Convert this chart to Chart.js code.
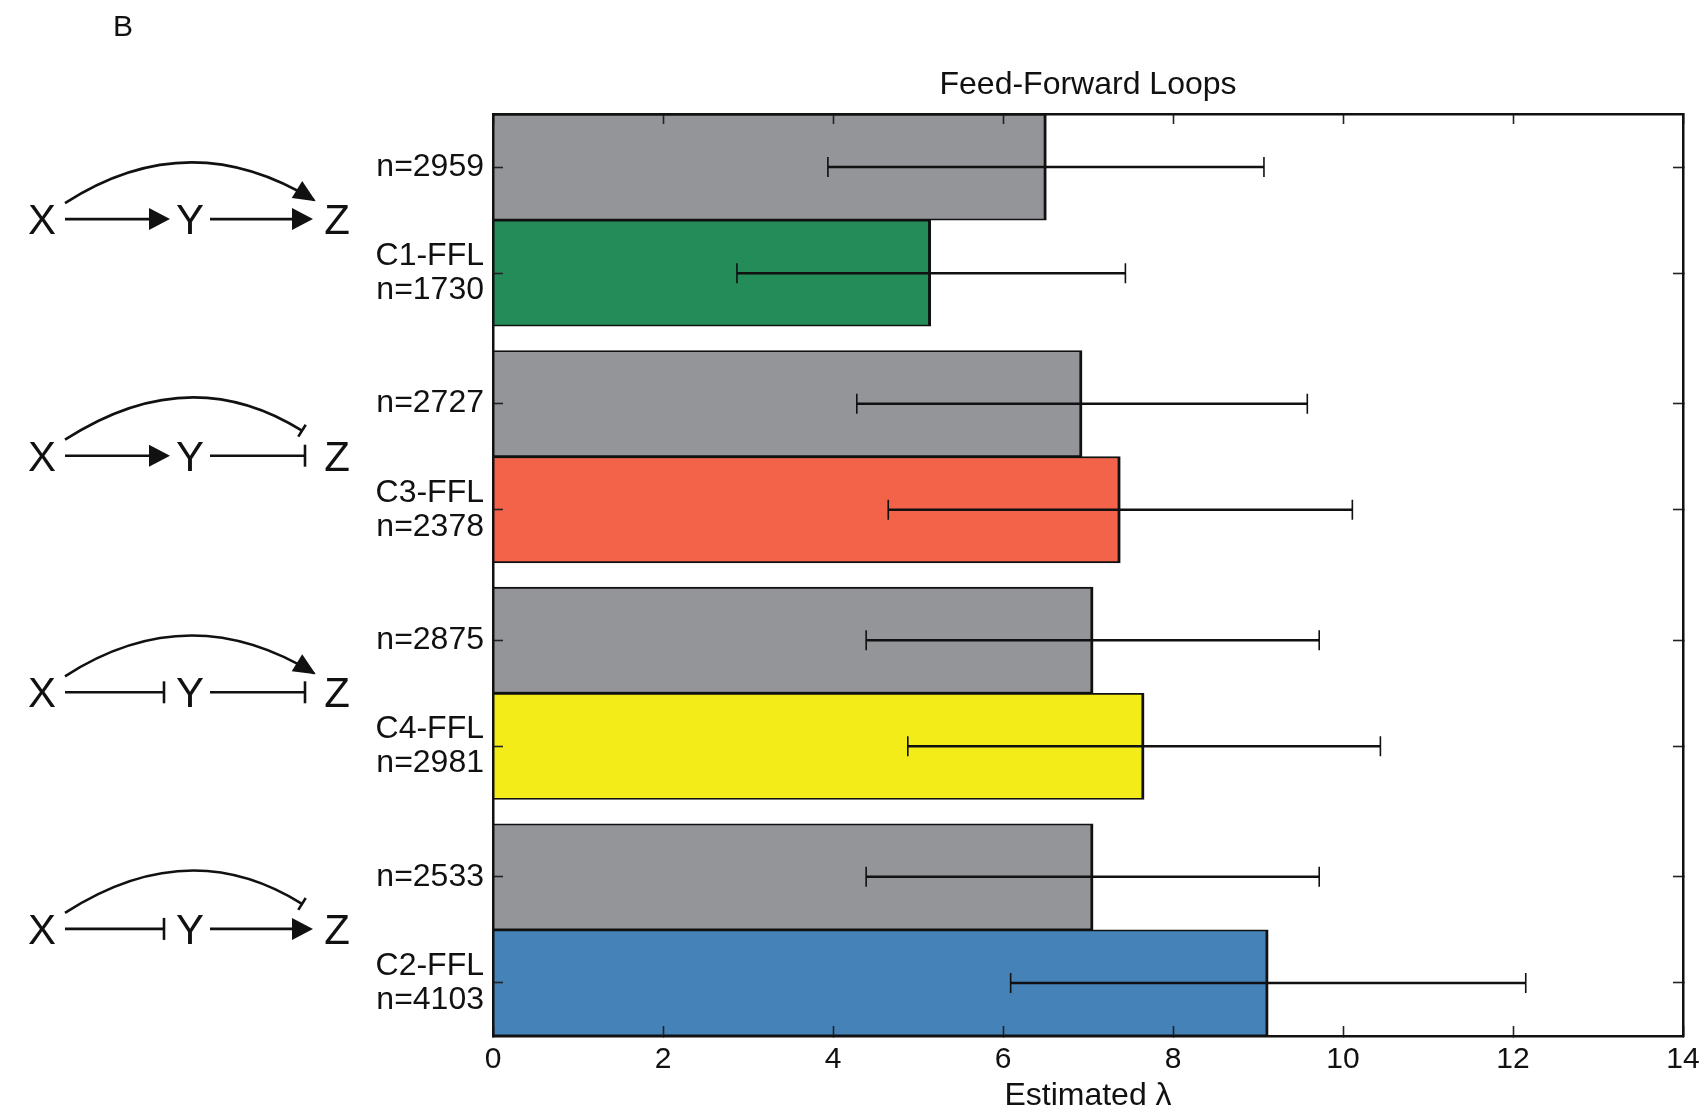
<!DOCTYPE html>
<html>
<head>
<meta charset="utf-8">
<script src="https://cdn.jsdelivr.net/npm/chart.js@4.4.1/dist/chart.umd.min.js"></script>
<style>
  html, body { margin: 0; padding: 0; background: #ffffff; }
  #wrap { width: 1706px; height: 1112px; position: relative; }
</style>
</head>
<body>
<div id="wrap"><canvas id="chart"></canvas></div>
<script>
// ---------------- data ----------------
const categories = [
  ["n=2959"], ["C1-FFL", "n=1730"],
  ["n=2727"], ["C3-FFL", "n=2378"],
  ["n=2875"], ["C4-FFL", "n=2981"],
  ["n=2533"], ["C2-FFL", "n=4103"]
];
const lambdaValues = [6.51, 5.15, 6.93, 7.38, 7.06, 7.66, 7.06, 9.12];
const errorLow     = [3.94, 2.87, 4.28, 4.65, 4.39, 4.88, 4.39, 6.09];
const errorHigh    = [9.07, 7.44, 9.58, 10.11, 9.72, 10.44, 9.72, 12.15];
const barColors = ["#939598", "#238c58", "#939598", "#f2634a", "#939598", "#f3ec19", "#939598", "#4582b8"];
const xTickValues = [0, 2, 4, 6, 8, 10, 12, 14];
// motif edge types per group: X->Y, Y->Z, X->Z  ('act' arrow, 'rep' bar)
const motifXY = ["act", "act", "rep", "rep"];
const motifYZ = ["act", "rep", "rep", "act"];
const motifXZ = ["act", "rep", "act", "rep"];

// ---------------- layout helpers ----------------
const FONT = "'Liberation Sans', Arial, Helvetica, sans-serif";
const GROUP_GAP = 0.23;               // gap between pairs, in bar heights
const barPos = i => i + 0.5 + Math.floor(i / 2) * GROUP_GAP;
const Y_MAX = categories.length + (categories.length / 2 - 1) * GROUP_GAP;

const barData = lambdaValues.map((v, i) => ({ x: v, y: barPos(i) }));

const gridOpts = {
  offset: false, drawOnChartArea: false, drawTicks: true, tickLength: -10,
  tickWidth: 1.6, tickColor: '#222', z: 1
};
const borderOpts = { display: true, color: '#111', width: 2.5, z: 1 };
const noSidePadding = s => { s.paddingLeft = 0; s.paddingRight = 0; };

// ---------------- plugins ----------------
const errorBarPlugin = {
  id: 'errorBars',
  afterDatasetsDraw(chart) {
    const ctx = chart.ctx, xs = chart.scales.x, ys = chart.scales.y;
    ctx.save();
    ctx.strokeStyle = '#111';
    for (let i = 0; i < lambdaValues.length; i++) {
      const y = ys.getPixelForValue(barPos(i));
      const x1 = xs.getPixelForValue(errorLow[i]);
      const x2 = xs.getPixelForValue(errorHigh[i]);
      ctx.lineWidth = 2.5;
      ctx.beginPath(); ctx.moveTo(x1, y); ctx.lineTo(x2, y); ctx.stroke();
      ctx.lineWidth = 1.6;
      ctx.beginPath();
      ctx.moveTo(x1, y - 10); ctx.lineTo(x1, y + 10);
      ctx.moveTo(x2, y - 10); ctx.lineTo(x2, y + 10);
      ctx.stroke();
    }
    ctx.restore();
  }
};

function arrowHead(ctx, tx, ty, ang, len, half) {
  const bx = tx - len * Math.cos(ang), by = ty - len * Math.sin(ang);
  const px = -Math.sin(ang), py = Math.cos(ang);
  ctx.beginPath();
  ctx.moveTo(tx, ty);
  ctx.lineTo(bx + px * half, by + py * half);
  ctx.lineTo(bx - px * half, by - py * half);
  ctx.closePath();
  ctx.fill();
}

function straightEdge(ctx, x0, x1, y, type) {
  if (type === 'act') {
    ctx.beginPath(); ctx.moveTo(x0, y); ctx.lineTo(x1 - 18, y); ctx.stroke();
    arrowHead(ctx, x1, y, 0, 21, 11);
  } else {
    ctx.beginPath(); ctx.moveTo(x0, y); ctx.lineTo(x1, y); ctx.stroke();
    ctx.beginPath(); ctx.moveTo(x1, y - 11); ctx.lineTo(x1, y + 11); ctx.stroke();
  }
}

const motifPlugin = {
  id: 'motifs',
  afterDraw(chart) {
    const ctx = chart.ctx, ys = chart.scales.y;
    ctx.save();
    ctx.fillStyle = '#111';
    ctx.strokeStyle = '#111';
    ctx.lineCap = 'butt';
    // panel letter
    ctx.font = '30px ' + FONT;
    ctx.textAlign = 'center';
    ctx.textBaseline = 'middle';
    ctx.fillText('B', 123, 28);

    for (let g = 0; g < motifXY.length; g++) {
      const cy = (ys.getPixelForValue(barPos(2 * g)) + ys.getPixelForValue(barPos(2 * g + 1))) / 2;
      // letters
      ctx.font = '42px ' + FONT;
      ctx.textAlign = 'center';
      ctx.textBaseline = 'alphabetic';
      ctx.fillText('X', 42, cy + 14);
      ctx.fillText('Y', 190, cy + 14);
      ctx.fillText('Z', 337, cy + 14);
      // straight edges
      ctx.lineWidth = 2.6;
      const ly = cy - 1;
      straightEdge(ctx, 65, motifXY[g] === 'act' ? 170 : 164, ly, motifXY[g]);
      straightEdge(ctx, 210, motifYZ[g] === 'act' ? 313 : 305, ly, motifYZ[g]);
      // curved X->Z edge
      const sx = 65, sy = cy - 17, cx = 189, cyc = cy - 97;
      let ex, ey;
      if (motifXZ[g] === 'act') { ex = 314; ey = cy - 20; } else { ex = 302; ey = cy - 26; }
      ctx.beginPath();
      ctx.moveTo(sx, sy);
      ctx.quadraticCurveTo(cx, cyc, ex, ey);
      ctx.stroke();
      const ang = Math.atan2(ey - cyc, ex - cx);
      if (motifXZ[g] === 'act') {
        arrowHead(ctx, ex + 2 * Math.cos(ang), ey + 2 * Math.sin(ang), ang, 22, 10);
      } else {
        const px = -Math.sin(ang), py = Math.cos(ang);
        ctx.beginPath();
        ctx.moveTo(ex - px * 7, ey - py * 7);
        ctx.lineTo(ex + px * 7, ey + py * 7);
        ctx.stroke();
      }
    }
    ctx.restore();
  }
};

// ---------------- chart ----------------
new Chart(document.getElementById('chart'), {
  type: 'bar',
  data: {
    datasets: [{
      data: barData,
      backgroundColor: barColors,
      borderColor: '#111',
      borderWidth: { left: 0, right: 3, top: 1.8, bottom: 1.8 },
      borderSkipped: false,
      barPercentage: 1,
      categoryPercentage: 1
    }]
  },
  options: {
    indexAxis: 'y',
    responsive: true,
    maintainAspectRatio: false,
    animation: false,
    layout: { padding: 0 },
    plugins: {
      legend: { display: false },
      tooltip: { enabled: false },
      title: { display: false }
    },
    scales: {
      x: {
        type: 'linear', position: 'bottom', min: 0, max: 14, offset: false,
        afterBuildTicks: s => { s.ticks = xTickValues.map(v => ({ value: v })); },
        ticks: { color: '#111', font: { family: FONT, size: 30 }, padding: 16, maxRotation: 0, autoSkip: false },
        grid: gridOpts,
        border: borderOpts,
        title: {
          display: true, text: 'Estimated λ', color: '#111',
          font: { family: FONT, size: 32, lineHeight: 1 },
          padding: { top: 0, bottom: 0 }
        },
        afterFit: s => { s.height = 76; noSidePadding(s); }
      },
      x2: {
        type: 'linear', position: 'top', min: 0, max: 14, offset: false,
        afterBuildTicks: s => { s.ticks = xTickValues.map(v => ({ value: v })); },
        ticks: { display: false },
        grid: gridOpts,
        border: borderOpts,
        title: {
          display: true, text: 'Feed-Forward Loops', color: '#111',
          font: { family: FONT, size: 32, lineHeight: 1.2 },
          padding: { top: 66, bottom: 0 }
        },
        afterFit: s => { s.height = 114; noSidePadding(s); }
      },
      y: {
        type: 'linear', position: 'left', reverse: true, min: 0, max: Y_MAX, offset: false,
        afterBuildTicks: s => { s.ticks = categories.map((c, i) => ({ value: barPos(i) })); },
        ticks: {
          callback: (v, i) => categories[i],
          color: '#111', font: { family: FONT, size: 32, lineHeight: 1.06 },
          padding: 19, autoSkip: false
        },
        grid: gridOpts,
        border: borderOpts,
        afterFit: s => { s.width = 493; s.paddingTop = 0; s.paddingBottom = 0; }
      },
      y2: {
        type: 'linear', position: 'right', reverse: true, min: 0, max: Y_MAX, offset: false,
        afterBuildTicks: s => { s.ticks = categories.map((c, i) => ({ value: barPos(i) })); },
        ticks: { display: false },
        grid: gridOpts,
        border: borderOpts,
        afterFit: s => { s.width = 23; s.paddingTop = 0; s.paddingBottom = 0; }
      }
    }
  },
  plugins: [errorBarPlugin, motifPlugin]
});
</script>
</body>
</html>
